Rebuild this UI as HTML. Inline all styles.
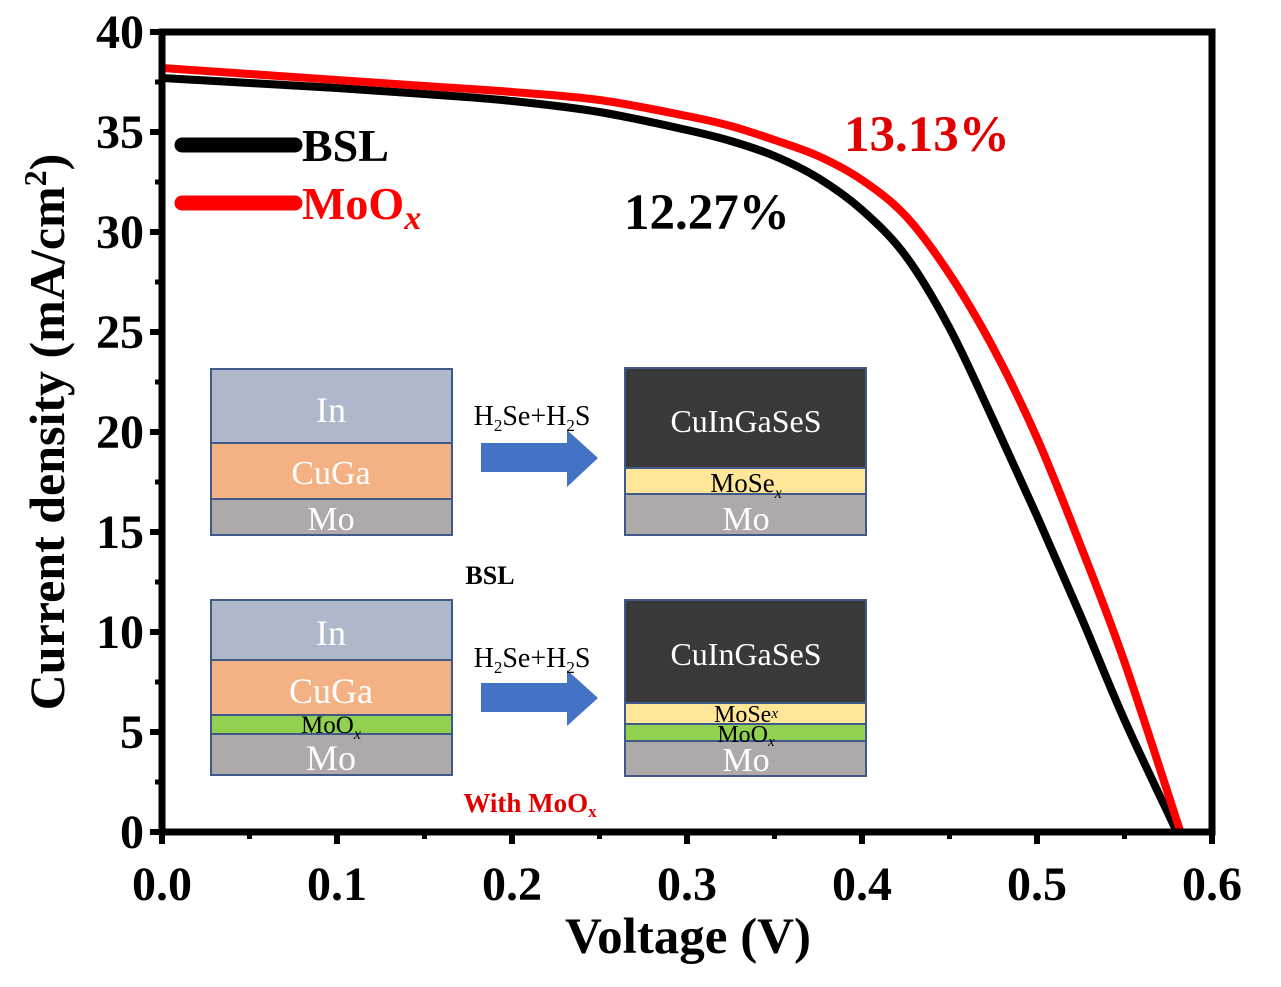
<!DOCTYPE html>
<html><head><meta charset="utf-8"><style>
body{margin:0;background:#fff}
svg{display:block;font-family:"Liberation Serif",serif}
</style></head><body>
<svg id="chart" width="1281" height="987" viewBox="0 0 1281 987">
<g id="curves"></g>
<g id="axes"></g>
<g id="inset">
 <g stroke="#3f5a8a" stroke-width="2">
  <rect x="211" y="369" width="241" height="74" fill="#adb9ca"/>
  <rect x="211" y="443" width="241" height="56" fill="#f4b183"/>
  <rect x="211" y="499" width="241" height="36" fill="#aeaaaa"/>
 </g>
 <text x="331" y="422" font-size="36" fill="#fff" text-anchor="middle">In</text>
 <text x="331" y="484" font-size="34" fill="#fff" text-anchor="middle">CuGa</text>
 <text x="331" y="530" font-size="34" fill="#fff" text-anchor="middle">Mo</text>
 <g stroke="#3f5a8a" stroke-width="2">
  <rect x="625" y="368" width="241" height="100" fill="#3a3838"/>
  <rect x="625" y="468" width="241" height="26" fill="#ffe699"/>
  <rect x="625" y="494" width="241" height="41" fill="#aeaaaa"/>
 </g>
 <text x="746" y="432" font-size="32" fill="#fff" text-anchor="middle">CuInGaSeS</text>
 <text x="746" y="492" font-size="27" fill="#000" text-anchor="middle">MoSe<tspan font-size="16" font-style="italic" dy="6">x</tspan></text>
 <text x="746" y="530" font-size="34" fill="#fff" text-anchor="middle">Mo</text>
 <polygon points="481,443 567,443 567,430 598,458 567,487 567,472 481,472" fill="#4472c4"/>
 <text x="532" y="425" font-size="28" text-anchor="middle">H<tspan font-size="17" dy="6">2</tspan><tspan dy="-6">Se+H</tspan><tspan font-size="17" dy="6">2</tspan><tspan dy="-6">S</tspan></text>
 <text x="490" y="584" font-size="26" font-weight="bold" text-anchor="middle">BSL</text>

 <g stroke="#3f5a8a" stroke-width="2">
  <rect x="211" y="600" width="241" height="60" fill="#adb9ca"/>
  <rect x="211" y="660" width="241" height="55" fill="#f4b183"/>
  <rect x="211" y="715" width="241" height="19" fill="#92d050"/>
  <rect x="211" y="734" width="241" height="41" fill="#aeaaaa"/>
 </g>
 <text x="331" y="645" font-size="36" fill="#fff" text-anchor="middle">In</text>
 <text x="331" y="703" font-size="36" fill="#fff" text-anchor="middle">CuGa</text>
 <text x="331" y="733" font-size="25" fill="#000" text-anchor="middle">MoO<tspan font-size="16" font-style="italic" dy="6">x</tspan></text>
 <text x="331" y="770" font-size="36" fill="#fff" text-anchor="middle">Mo</text>
 <g stroke="#3f5a8a" stroke-width="2">
  <rect x="625" y="600" width="241" height="103" fill="#3a3838"/>
  <rect x="625" y="703" width="241" height="21" fill="#ffe699"/>
  <rect x="625" y="724" width="241" height="17" fill="#92d050"/>
  <rect x="625" y="741" width="241" height="35" fill="#aeaaaa"/>
 </g>
 <text x="746" y="665" font-size="32" fill="#fff" text-anchor="middle">CuInGaSeS</text>
 <text x="746" y="722" font-size="24" fill="#000" text-anchor="middle">MoSe<tspan font-size="15" font-style="italic" dy="-4">x</tspan></text>
 <text x="746" y="742" font-size="24" fill="#000" text-anchor="middle">MoO<tspan font-size="15" font-style="italic" dy="4">x</tspan></text>
 <text x="746" y="771" font-size="34" fill="#fff" text-anchor="middle">Mo</text>
 <polygon points="481,683 567,683 567,670 598,698 567,726 567,712 481,712" fill="#4472c4"/>
 <text x="532" y="667" font-size="28" text-anchor="middle">H<tspan font-size="17" dy="6">2</tspan><tspan dy="-6">Se+H</tspan><tspan font-size="17" dy="6">2</tspan><tspan dy="-6">S</tspan></text>
 <text x="530" y="812" font-size="27" font-weight="bold" fill="#e00000" text-anchor="middle">With MoO<tspan font-size="17" dy="5">x</tspan></text>
</g>
<g>
 <line x1="182" y1="145" x2="295" y2="145" stroke="#000" stroke-width="15" stroke-linecap="round"/>
 <text x="302" y="161" font-size="46" font-weight="bold">BSL</text>
 <line x1="182" y1="203" x2="295" y2="203" stroke="#f00" stroke-width="15" stroke-linecap="round"/>
 <text x="302" y="219" font-size="46" font-weight="bold" fill="#f00">MoO<tspan font-style="italic" font-size="34" dy="10">x</tspan></text>
</g>
<text x="624" y="229" font-size="51" font-weight="bold">12.27%</text>
<text x="844" y="151" font-size="51" font-weight="bold" fill="#e00000">13.13%</text>
<text x="688" y="953" font-size="51" font-weight="bold" text-anchor="middle">Voltage (V)</text>
<text transform="translate(64,432) rotate(-90)" font-size="50" font-weight="bold" text-anchor="middle">Current density (mA/cm<tspan font-size="32" dy="-18">2</tspan><tspan dy="18">)</tspan></text>
</svg>
<script>
const voltsBSL=[0,0.05,0.1,0.15,0.2,0.25,0.3,0.325,0.35,0.375,0.4,0.425,0.45,0.475,0.5,0.525,0.55,0.58];
const jBSL=[37.7,37.45,37.2,36.9,36.55,36.0,35.1,34.55,33.8,32.7,31.1,28.8,25.2,20.6,15.8,10.8,5.6,0];
const voltsMoO=[0,0.05,0.1,0.15,0.2,0.25,0.3,0.325,0.35,0.375,0.4,0.425,0.45,0.475,0.5,0.525,0.55,0.582];
const jMoO=[38.2,37.9,37.6,37.3,37.0,36.6,35.8,35.3,34.6,33.8,32.6,30.8,27.9,24.2,19.7,14.3,8.5,0];
const xTicks=[0,0.1,0.2,0.3,0.4,0.5,0.6];
const xTickLabels=["0.0","0.1","0.2","0.3","0.4","0.5","0.6"];
const yTicks=[0,5,10,15,20,25,30,35,40];
const X0=162,X1=1212,Y0=832,Y1=32;
const sx=v=>X0+(v-0)/(0.6)*(X1-X0);
const sy=j=>Y0-(j/40)*(Y0-Y1);
const NS="http://www.w3.org/2000/svg";
function mk(tag,attrs,parent){const e=document.createElementNS(NS,tag);for(const k in attrs)e.setAttribute(k,attrs[k]);parent.appendChild(e);return e;}
function pathFor(xs,ys){
 const p=xs.map((v,i)=>[sx(v),sy(ys[i])]);
 let d=`M${p[0][0]},${p[0][1]}`;
 for(let i=0;i<p.length-1;i++){
  const a=p[i-1]||p[i],b=p[i],c=p[i+1],e=p[i+2]||c;
  const c1=[b[0]+(c[0]-a[0])/6,b[1]+(c[1]-a[1])/6],c2=[c[0]-(e[0]-b[0])/6,c[1]-(e[1]-b[1])/6];
  d+=` C${c1[0]},${c1[1]} ${c2[0]},${c2[1]} ${c[0]},${c[1]}`;
 }
 return d;
}
const cg=document.getElementById('curves');
const l1=mk('path',{d:pathFor(voltsBSL,jBSL),fill:'none',stroke:'#000','stroke-width':8},cg);


const l2=mk('path',{d:pathFor(voltsMoO,jMoO),fill:'none',stroke:'#f00','stroke-width':8},cg);


const ag=document.getElementById('axes');
const fr=mk('rect',{x:X0,y:Y1,width:X1-X0,height:Y0-Y1,fill:'none',stroke:'#000','stroke-width':7},ag);


xTicks.forEach((v,i)=>{
 const t=mk('line',{x1:sx(v),x2:sx(v),y1:Y0,y2:Y0+12,stroke:'#000','stroke-width':6},ag);
 
 
 if(i<xTicks.length-1){const m=mk('line',{x1:sx(v+0.05),x2:sx(v+0.05),y1:Y0,y2:Y0+7,stroke:'#000','stroke-width':5},ag);
 
 }
 const tx=mk('text',{x:sx(v),y:900,'font-size':48,'font-weight':'bold','text-anchor':'middle'},ag);
 tx.textContent=xTickLabels[i];
 
 
});
yTicks.forEach((v,i)=>{
 const t=mk('line',{x1:X0-12,x2:X0,y1:sy(v),y2:sy(v),stroke:'#000','stroke-width':6},ag);
 
 
 if(i<yTicks.length-1){const m=mk('line',{x1:X0-7,x2:X0,y1:sy(v+2.5),y2:sy(v+2.5),stroke:'#000','stroke-width':5},ag);
 
 }
 const tx=mk('text',{x:X0-18,y:sy(v)+16,'font-size':48,'font-weight':'bold','text-anchor':'end'},ag);
 tx.textContent=String(v);
 
 
});
</script>
</body></html>
